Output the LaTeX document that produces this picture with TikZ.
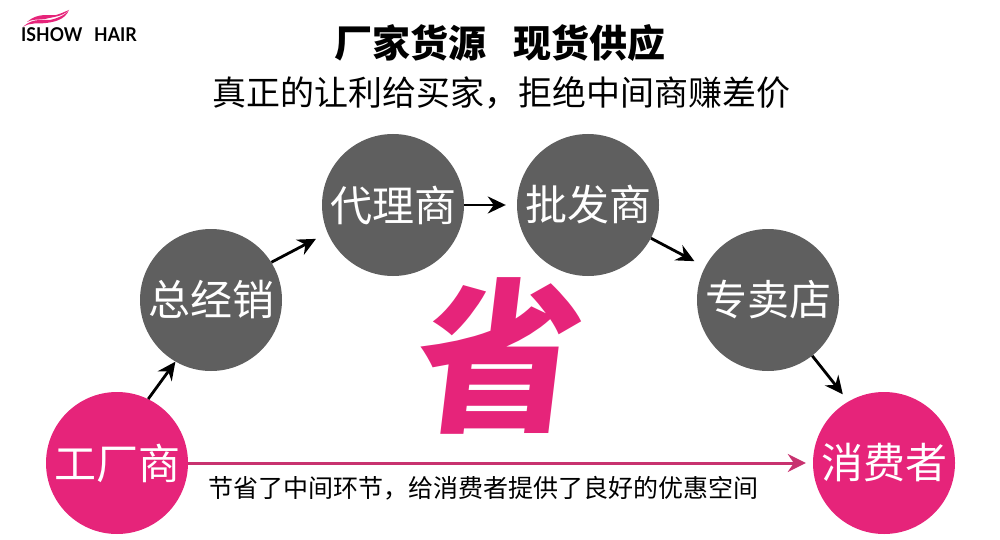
\documentclass[tikz,border=0pt]{standalone}
\usepackage{fontspec}
\usetikzlibrary{arrows.meta}
\newfontfamily\cjk{Noto Sans CJK SC}
\newfontfamily\logofont{Lato}
\definecolor{stopgray}{HTML}{5F5F5F}
\definecolor{stoppink}{HTML}{E6247A}
\definecolor{linepink}{HTML}{C8326F}
\tikzset{
	stopnode/.style={circle, minimum size=14.2em, inner sep=0pt, text=white, font=\fontsize{42pt}{42pt}\selectfont\cjk},
	grayfill/.style={fill=stopgray},
	pinkfill/.style={fill=stoppink},
	steparrow/.style={-{Stealth[length=1.8em, width=1.7em, inset=0.6em]}, line width=0.28em, black},
	longarrow/.style={-{Stealth[length=1.8em, width=1.8em, inset=0.6em]}, line width=0.3em, linepink},
	headline/.style={inner sep=0pt, font=\fontsize{#1}{#1}\selectfont\cjk},
	logotext/.style={inner sep=0pt, anchor=west, font=\fontsize{19pt}{19pt}\selectfont\logofont\bfseries}
}
\begin{document}
\begin{tikzpicture}

	\useasboundingbox (0,0) rectangle (100em,-54em);

	%% The logo
	\fill[stoppink] (2.3em,-2.7em) .. controls (3.4em,-1.6em) and (4.6em,-2.2em) .. (5.4em,-1.9em)
		.. controls (6em,-1.7em) and (6.5em,-1.5em) .. (6.9em,-1.0em)
		.. controls (6.5em,-2.0em) and (5.4em,-2.2em) .. (4.6em,-2.3em)
		.. controls (3.8em,-2.4em) and (3.0em,-2.2em) .. (2.3em,-2.7em) -- cycle;
	\fill[stoppink] (2.7em,-2.2em) .. controls (3.8em,-1.2em) and (5.0em,-1.6em) .. (5.6em,-1.5em)
		.. controls (6em,-1.4em) and (6.4em,-1.2em) .. (6.9em,-1.0em)
		.. controls (6.2em,-1.7em) and (5.2em,-1.7em) .. (4.5em,-1.9em)
		.. controls (3.8em,-2.0em) and (3.2em,-1.9em) .. (2.7em,-2.2em) -- cycle;
	\node[logotext, xscale=0.93, transform shape] at (2.1em,-3.5em) (logo-1) {ISHOW};
	\node[logotext, xscale=0.93, transform shape] at (9.4em,-3.5em) (logo-2) {HAIR};

	%% The headings
	\node[headline=38pt] at (50em,-4.3em) (title) {\bfseries 厂家货源\hspace{0.7em}现货供应};
	\node[headline=34pt] at (50.1em,-9.3em) (subtitle) {真正的让利给买家，拒绝中间商赚差价};

	%% The gray row
	\begin{scope}[every node/.style={stopnode, grayfill}]
		\node at (21.1em,-30em) (dealer) {总经销};
		\node at (39.3em,-20.5em) (agent) {代理商};
		\node at (58.8em,-20.5em) (wholesale) {批发商};
		\node at (76.8em,-30em) (shop) {专卖店};
	\end{scope}

	%% The two ends
	\begin{scope}[every node/.style={stopnode, pinkfill}]
		\node at (11.7em,-46.3em) (factory) {工厂商};
		\node at (88.4em,-46.3em) (buyer) {消费者};
	\end{scope}

	%% The big character
	\node[inner sep=0pt, text=stoppink, xslant=0.12, transform shape, font=\fontsize{165pt}{165pt}\selectfont\cjk\bfseries] at (50em,-35.6em) (saved) {省};

	%% The arrows
	\draw[steparrow] (factory.64) -- (dealer.240);
	\draw[steparrow, shorten >=1.3em] (dealer.32) -- (agent.203);
	\draw[steparrow, shorten >=1.1em] (agent) -- (wholesale);
	\draw[steparrow, shorten >=1.2em] (wholesale) -- (shop);
	\draw[steparrow, shorten >=0.9em] (shop) -- (buyer.120);
	\draw[longarrow, shorten >=0.7em] (factory) -- (buyer);

	\node[headline=25pt] at (48.3em,-48.8em) (caption) {节省了中间环节，给消费者提供了良好的优惠空间};

\end{tikzpicture}
\end{document}
